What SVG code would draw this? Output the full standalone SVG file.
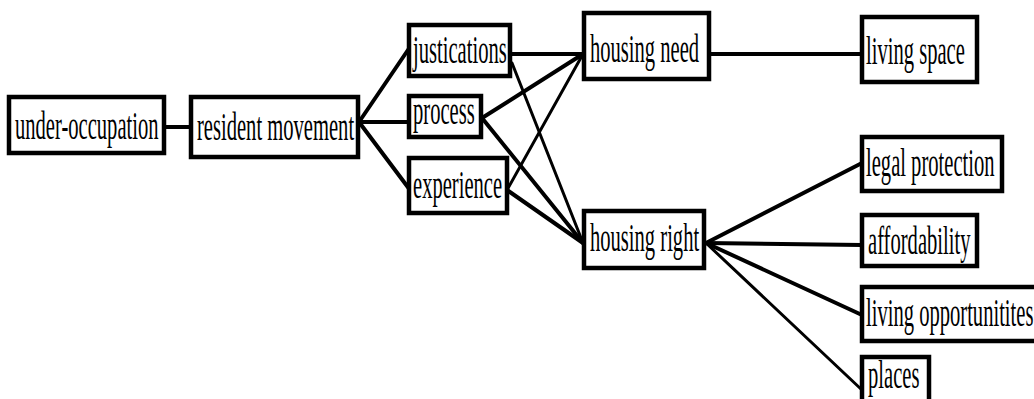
<svg xmlns="http://www.w3.org/2000/svg" width="1034" height="399" viewBox="0 0 1034 399">
<style>
.box{fill:#fff;stroke:#000;stroke-width:4.5}
.t{font-family:"Liberation Serif","Times New Roman",serif;font-size:41px;fill:#000}
.c{stroke:#000;stroke-width:4;fill:none;stroke-linecap:round}
.c2{stroke:#000;stroke-width:3;fill:none;stroke-linecap:round}
</style>
<rect width="1034" height="399" fill="#fff"/>
<g id="connectors">
<line class="c" x1="164" y1="127" x2="191" y2="127"/>
<line class="c" x1="359" y1="122" x2="410" y2="47"/>
<line class="c" x1="359" y1="122" x2="410" y2="122"/>
<line class="c" x1="359" y1="122" x2="410" y2="190"/>
<line class="c" x1="510" y1="54" x2="583" y2="54"/>
<line class="c2" x1="512" y1="63" x2="583" y2="243"/>
<line class="c" x1="482" y1="118" x2="583" y2="54"/>
<line class="c" x1="482" y1="118" x2="583" y2="243"/>
<line class="c2" x1="507" y1="190" x2="583" y2="54"/>
<line class="c" x1="507" y1="190" x2="583" y2="243"/>
<line class="c" x1="709" y1="54" x2="862" y2="54"/>
<line class="c" x1="706" y1="243" x2="862" y2="163"/>
<line class="c" x1="706" y1="243" x2="862" y2="245"/>
<line class="c" x1="706" y1="243" x2="862" y2="315"/>
<line class="c2" x1="706" y1="243" x2="862" y2="390"/>
</g>
<g id="n-under-occupation"><rect class="box" x="9" y="97" width="155" height="56"/><text class="t" transform="translate(15 139) scale(0.502 1)">under-occupation</text></g>
<g id="n-resident-movement"><rect class="box" x="191" y="97" width="167" height="60"/><text class="t" transform="translate(197 140) scale(0.502 1)">resident movement</text></g>
<g id="n-justications"><rect class="box" x="409" y="25" width="101" height="51"/><text class="t" transform="translate(413 63) scale(0.502 1)">justications</text></g>
<g id="n-process"><rect class="box" x="409" y="96" width="72" height="41"/><text class="t" transform="translate(413 124) scale(0.502 1)">process</text></g>
<g id="n-experience"><rect class="box" x="409" y="158" width="98" height="55"/><text class="t" transform="translate(413 198) scale(0.502 1)">experience</text></g>
<g id="n-housing-need"><rect class="box" x="584" y="13" width="125" height="66"/><text class="t" transform="translate(590 62) scale(0.502 1)">housing need</text></g>
<g id="n-housing-right"><rect class="box" x="584" y="211" width="120" height="57"/><text class="t" transform="translate(590 251) scale(0.502 1)">housing right</text></g>
<g id="n-living-space"><rect class="box" x="862" y="17" width="115" height="65"/><text class="t" transform="translate(866 64) scale(0.502 1)">living space</text></g>
<g id="n-legal-protection"><rect class="box" x="862" y="137" width="140" height="54"/><text class="t" transform="translate(866 176) scale(0.502 1)">legal protection</text></g>
<g id="n-affordability"><rect class="box" x="862" y="215" width="115" height="51"/><text class="t" transform="translate(868 254) scale(0.502 1)">affordability</text></g>
<g id="n-living-opportunitites"><rect class="box" x="862" y="287" width="180" height="54"/><text class="t" transform="translate(866 326) scale(0.502 1)">living opportunitites</text></g>
<g id="n-places"><rect class="box" x="862" y="357" width="67" height="50"/><text class="t" transform="translate(868 388) scale(0.502 1)">places</text></g>
</svg>
